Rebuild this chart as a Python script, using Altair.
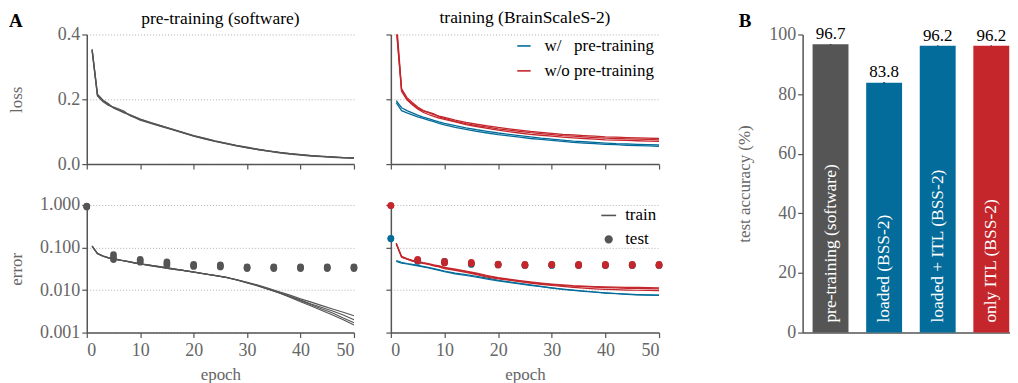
import altair as alt
import pandas as pd

FONT = "Liberation Serif"
GRAY = "#555555"
LABEL_GRAY = "#666666"
BLUE = "#046c9a"
RED = "#c4262b"
GRID = "#b0b0b0"

W_PRE = "w/\u00a0\u00a0\u00a0pre-training"
WO_PRE = "w/o pre-training"

# ---------------- data ----------------
EPOCHS = [1, 2, 3, 4, 5, 6, 7, 8, 9, 10, 12, 14, 16, 18, 20, 22, 24, 26, 28, 30,
          32, 34, 36, 38, 40, 42, 44, 46, 48, 50]
TEST_EPOCHS = [0, 5, 10, 15, 20, 25, 30, 35, 40, 45, 50]

# pre-training (software) loss, several runs
sw_loss_runs = [
    [0.355, 0.213, 0.196, 0.184, 0.174, 0.167, 0.160, 0.152, 0.145, 0.138, 0.127, 0.117, 0.107, 0.097, 0.087,
     0.079, 0.071, 0.064, 0.057, 0.051, 0.045, 0.040, 0.036, 0.032, 0.029, 0.026, 0.024, 0.022, 0.020, 0.019],
    [0.350, 0.210, 0.193, 0.182, 0.176, 0.170, 0.163, 0.150, 0.143, 0.136, 0.126, 0.116, 0.106, 0.096, 0.086,
     0.078, 0.070, 0.063, 0.056, 0.050, 0.045, 0.040, 0.035, 0.031, 0.028, 0.025, 0.023, 0.021, 0.019, 0.018],
    [0.352, 0.216, 0.198, 0.187, 0.173, 0.166, 0.158, 0.153, 0.146, 0.139, 0.128, 0.118, 0.108, 0.098, 0.088,
     0.080, 0.072, 0.065, 0.058, 0.052, 0.046, 0.041, 0.036, 0.032, 0.029, 0.026, 0.024, 0.022, 0.020, 0.019],
]

# pre-training (software) train error, several runs
sw_err_runs = [
    [0.108, 0.072, 0.063, 0.058, 0.054, 0.051, 0.049, 0.046, 0.043, 0.041, 0.038, 0.035, 0.032, 0.029, 0.0265,
     0.024, 0.022, 0.020, 0.0175, 0.0150, 0.0128, 0.0106, 0.0087, 0.0071, 0.0058, 0.0047, 0.0039, 0.0032, 0.0026, 0.0020],
    [0.106, 0.071, 0.062, 0.057, 0.053, 0.051, 0.048, 0.046, 0.043, 0.041, 0.038, 0.034, 0.031, 0.029, 0.0262,
     0.0238, 0.0218, 0.0198, 0.0176, 0.0152, 0.0131, 0.0110, 0.0091, 0.0076, 0.0062, 0.0052, 0.0043, 0.0036, 0.0030, 0.0025],
    [0.109, 0.073, 0.064, 0.058, 0.055, 0.052, 0.049, 0.047, 0.044, 0.042, 0.038, 0.035, 0.032, 0.029, 0.0268,
     0.0242, 0.0220, 0.0199, 0.0172, 0.0147, 0.0125, 0.0103, 0.0085, 0.0068, 0.0053, 0.0042, 0.0033, 0.0026, 0.0020, 0.0015],
    [0.107, 0.072, 0.063, 0.057, 0.054, 0.051, 0.048, 0.046, 0.044, 0.041, 0.037, 0.034, 0.031, 0.029, 0.0264,
     0.0241, 0.0221, 0.0201, 0.0174, 0.0149, 0.0127, 0.0105, 0.0088, 0.0070, 0.0056, 0.0045, 0.0036, 0.0029, 0.0022, 0.0017],
]

# pre-training (software) test error (3 runs per test epoch)
sw_test_runs = [
    [0.92, 0.052, 0.045, 0.039, 0.036, 0.035, 0.032, 0.032, 0.032, 0.032, 0.032],
    [0.94, 0.060, 0.049, 0.042, 0.038, 0.037, 0.034, 0.034, 0.034, 0.034, 0.034],
    [0.90, 0.068, 0.053, 0.046, 0.040, 0.039, 0.035, 0.035, 0.035, 0.035, 0.035],
]

# BrainScaleS-2 loss
hw_loss_wo = [
    [0.45, 0.232, 0.205, 0.190, 0.176, 0.166, 0.159, 0.153, 0.148, 0.144, 0.136, 0.129, 0.123, 0.118, 0.113,
     0.109, 0.105, 0.101, 0.098, 0.095, 0.092, 0.090, 0.088, 0.086, 0.084, 0.083, 0.082, 0.081, 0.080, 0.079],
    [0.43, 0.228, 0.200, 0.186, 0.172, 0.164, 0.160, 0.155, 0.146, 0.141, 0.132, 0.125, 0.119, 0.114, 0.109,
     0.105, 0.101, 0.097, 0.094, 0.091, 0.088, 0.086, 0.084, 0.082, 0.080, 0.079, 0.078, 0.077, 0.076, 0.075],
    [0.42, 0.225, 0.198, 0.183, 0.170, 0.160, 0.153, 0.147, 0.142, 0.138, 0.130, 0.122, 0.116, 0.110, 0.105,
     0.100, 0.096, 0.092, 0.089, 0.086, 0.083, 0.081, 0.079, 0.077, 0.075, 0.074, 0.073, 0.072, 0.071, 0.070],
]
hw_loss_w = [
    [0.196, 0.174, 0.165, 0.158, 0.151, 0.145, 0.140, 0.135, 0.130, 0.126, 0.119, 0.112, 0.106, 0.101, 0.096,
     0.092, 0.088, 0.084, 0.080, 0.077, 0.074, 0.071, 0.069, 0.067, 0.065, 0.063, 0.062, 0.061, 0.060, 0.059],
    [0.190, 0.165, 0.158, 0.152, 0.146, 0.141, 0.136, 0.131, 0.126, 0.121, 0.113, 0.107, 0.101, 0.096, 0.091,
     0.087, 0.083, 0.079, 0.076, 0.073, 0.070, 0.067, 0.065, 0.063, 0.061, 0.060, 0.058, 0.057, 0.056, 0.055],
]

# BrainScaleS-2 train error
hw_err_wo = [
    [0.124, 0.060, 0.054, 0.049, 0.046, 0.043, 0.041, 0.038, 0.036, 0.033, 0.030, 0.027, 0.024, 0.021, 0.0190,
     0.0176, 0.0162, 0.0150, 0.0141, 0.0134, 0.0128, 0.0123, 0.0120, 0.0117, 0.0114, 0.0112, 0.0110, 0.0109, 0.0108, 0.0107],
    [0.128, 0.062, 0.055, 0.050, 0.047, 0.044, 0.042, 0.039, 0.037, 0.034, 0.031, 0.028, 0.025, 0.022, 0.0196,
     0.0180, 0.0166, 0.0155, 0.0146, 0.0138, 0.0132, 0.0127, 0.0124, 0.0121, 0.0119, 0.0117, 0.0116, 0.0115, 0.0114, 0.0113],
    [0.120, 0.059, 0.053, 0.048, 0.045, 0.042, 0.040, 0.037, 0.035, 0.032, 0.029, 0.026, 0.023, 0.020, 0.0184,
     0.0170, 0.0157, 0.0146, 0.0136, 0.0128, 0.0122, 0.0116, 0.0111, 0.0107, 0.0104, 0.0102, 0.0100, 0.0099, 0.0098, 0.0097],
]
hw_err_w = [
    [0.049, 0.045, 0.042, 0.040, 0.038, 0.036, 0.034, 0.032, 0.030, 0.028, 0.025, 0.023, 0.021, 0.019, 0.0170,
     0.0155, 0.0143, 0.0132, 0.0122, 0.0113, 0.0106, 0.0100, 0.0095, 0.0090, 0.0086, 0.0083, 0.0080, 0.0078, 0.0077, 0.0076],
    [0.047, 0.043, 0.041, 0.039, 0.037, 0.035, 0.033, 0.031, 0.029, 0.027, 0.024, 0.022, 0.020, 0.018, 0.0165,
     0.0151, 0.0139, 0.0129, 0.0120, 0.0111, 0.0104, 0.0098, 0.0093, 0.0089, 0.0085, 0.0082, 0.0079, 0.0077, 0.0076, 0.0075],
]

# BrainScaleS-2 test error
hw_test_wo = [
    [0.97, 0.049, 0.043, 0.042, 0.039, 0.038, 0.039, 0.038, 0.038, 0.038, 0.038],
    [0.97, 0.053, 0.047, 0.045, 0.041, 0.040, 0.040, 0.040, 0.040, 0.040, 0.040],
]
hw_test_w = [
    [0.165, 0.047, 0.044, 0.040, 0.039, 0.038, 0.038, 0.038, 0.038, 0.038, 0.038],
    [0.160, 0.050, 0.047, 0.042, 0.040, 0.039, 0.039, 0.039, 0.039, 0.039, 0.039],
]

# Panel B
bar_labels = ["pre-training (software)", "loaded (BSS-2)", "loaded + ITL (BSS-2)", "only ITL (BSS-2)"]
bar_values = [96.7, 83.8, 96.2, 96.2]
bar_errors = [0.1, 0.2, 0.1, 0.1]
bar_colors = [GRAY, BLUE, BLUE, RED]


def long_df(runs, epochs, cond=None, kind=None):
    rows = []
    for r, vals in enumerate(runs):
        for e, v in zip(epochs, vals):
            rows.append({"epoch": e, "value": v, "run": r, "cond": cond, "kind": kind})
    return pd.DataFrame(rows)


# ---------------- common pieces ----------------
XVALS = [0, 10, 20, 30, 40, 50]
xscale = alt.Scale(domain=[0, 50], nice=False, zero=False)
loss_scale = alt.Scale(domain=[0, 0.4], nice=False)
err_scale = alt.Scale(type="log", domain=[0.001, 1], nice=False)

axis_common = dict(domainColor=GRAY, tickColor=GRAY, domainWidth=1.5, tickWidth=1.2, tickSize=5,
                   labelFont=FONT, labelFontSize=18, labelColor=LABEL_GRAY,
                   titleFont=FONT, titleFontSize=17, titleColor=LABEL_GRAY, titleFontWeight="normal")

x_top_axis = alt.Axis(values=XVALS, labels=False, title=None, grid=False, **axis_common)
x_bot_axis = alt.Axis(values=XVALS, title="epoch", grid=False, labelPadding=4, titlePadding=7, **axis_common)

grid_kw = dict(grid=True, gridColor=GRID, gridDash=[1, 2], gridWidth=1)

TW, TH, BH = 268, 130, 128
MW = 269

cmap = alt.Scale(domain=[W_PRE, WO_PRE], range=[BLUE, RED])

OFF = -16
title_kw = dict(font=FONT, fontSize=17.5, fontWeight="normal", color="black",
                anchor="middle", frame="group")

# --- top-left: pre-training loss
tl_lines = alt.Chart(long_df(sw_loss_runs, EPOCHS)).mark_line(strokeWidth=1.3, color=GRAY).encode(
    x=alt.X("epoch:Q", scale=xscale, axis=x_top_axis),
    y=alt.Y("value:Q", scale=loss_scale,
            axis=alt.Axis(values=[0, 0.2, 0.4], format=".1f", title="loss", labelPadding=2,
                          titleX=-70, titleY=TH / 2, titleBaseline="middle", **grid_kw, **axis_common)),
    detail="run:N",
)
letter_a = alt.Chart(pd.DataFrame({"t": ["A"]})).mark_text(
    font=FONT, fontSize=19, fontWeight="bold", color="black", align="left", baseline="bottom"
).encode(text="t:N", x=alt.value(-78), y=alt.value(-4))

top_left = alt.layer(tl_lines, letter_a).properties(
    width=TW, height=TH, title=alt.TitleParams("pre-training (software)", offset=OFF, **title_kw))

# --- bottom-left: pre-training error
bl_lines = alt.Chart(long_df(sw_err_runs, EPOCHS)).mark_line(strokeWidth=1.1, color=GRAY).encode(
    x=alt.X("epoch:Q", scale=xscale, axis=x_bot_axis),
    y=alt.Y("value:Q", scale=err_scale,
            axis=alt.Axis(values=[0.001, 0.01, 0.1, 1], format=".3f", title="error", labelPadding=2,
                          titleX=-70, titleY=BH / 2, titleBaseline="middle", **grid_kw, **axis_common)),
    detail="run:N",
)
bl_pts = alt.Chart(long_df(sw_test_runs, TEST_EPOCHS)).mark_point(
    filled=True, size=45, color=GRAY, opacity=1).encode(
    x=alt.X("epoch:Q", scale=xscale),
    y=alt.Y("value:Q", scale=err_scale),
)
bottom_left = alt.layer(bl_lines, bl_pts).properties(width=TW, height=BH)

# --- top-right: BSS-2 loss
y_mid_loss_axis = alt.Axis(values=[0, 0.2, 0.4], labels=False, title=None, **grid_kw, **axis_common)
tr_blue = alt.Chart(long_df(hw_loss_w, EPOCHS, cond=W_PRE)).mark_line(strokeWidth=1.3, clip=True).encode(
    x=alt.X("epoch:Q", scale=xscale, axis=x_top_axis),
    y=alt.Y("value:Q", scale=loss_scale, axis=y_mid_loss_axis),
    color=alt.Color("cond:N", scale=cmap, legend=alt.Legend(
        title=None, orient="none", legendX=125, legendY=3, symbolType="stroke", symbolSize=180,
        symbolStrokeWidth=1.6, labelFont=FONT, labelFontSize=17, labelColor="black", labelOffset=12,
        rowPadding=7, padding=0)),
    detail="run:N",
)
tr_red = alt.Chart(long_df(hw_loss_wo, EPOCHS, cond=WO_PRE)).mark_line(strokeWidth=1.3, clip=True).encode(
    x=alt.X("epoch:Q", scale=xscale),
    y=alt.Y("value:Q", scale=loss_scale),
    color=alt.Color("cond:N", scale=cmap),
    detail="run:N",
)
top_right = alt.layer(tr_blue, tr_red).properties(
    width=MW, height=TH, title=alt.TitleParams("training (BrainScaleS-2)", offset=OFF + 23, **title_kw))

# --- bottom-right: BSS-2 error
y_mid_err_axis = alt.Axis(values=[0.001, 0.01, 0.1, 1], labels=False, title=None, **grid_kw, **axis_common)
kind_shape = alt.Scale(domain=["train", "test"], range=["stroke", "circle"])
kind_size = alt.Scale(domain=["train", "test"], range=[220, 45])
kind_legend = alt.Legend(title=None, orient="none", legendX=210, legendY=2,
                         labelFont=FONT, labelFontSize=17, labelColor="black", labelOffset=8,
                         symbolFillColor=GRAY, symbolStrokeColor=GRAY, symbolStrokeWidth=1.6,
                         rowPadding=6, padding=0)

br_blue = alt.Chart(long_df(hw_err_w, EPOCHS, cond=W_PRE)).mark_line(strokeWidth=1.2).encode(
    x=alt.X("epoch:Q", scale=xscale, axis=x_bot_axis),
    y=alt.Y("value:Q", scale=err_scale, axis=y_mid_err_axis),
    color=alt.Color("cond:N", scale=cmap, legend=None),
    detail="run:N",
)
br_red = alt.Chart(long_df(hw_err_wo, EPOCHS, cond=WO_PRE)).mark_line(strokeWidth=1.2).encode(
    x=alt.X("epoch:Q", scale=xscale),
    y=alt.Y("value:Q", scale=err_scale),
    color=alt.Color("cond:N", scale=cmap, legend=None),
    detail="run:N",
)
br_pts_blue = alt.Chart(long_df(hw_test_w, TEST_EPOCHS, cond=W_PRE, kind="test")).mark_point(
    filled=True, opacity=1).encode(
    x=alt.X("epoch:Q", scale=xscale),
    y=alt.Y("value:Q", scale=err_scale),
    color=alt.Color("cond:N", scale=cmap, legend=None),
    shape=alt.Shape("kind:N", scale=kind_shape, legend=kind_legend),
    size=alt.Size("kind:N", scale=kind_size, legend=kind_legend),
)
br_pts_red = alt.Chart(long_df(hw_test_wo, TEST_EPOCHS, cond=WO_PRE, kind="test")).mark_point(
    filled=True, opacity=1).encode(
    x=alt.X("epoch:Q", scale=xscale),
    y=alt.Y("value:Q", scale=err_scale),
    color=alt.Color("cond:N", scale=cmap, legend=None),
    shape=alt.Shape("kind:N", scale=kind_shape, legend=kind_legend),
    size=alt.Size("kind:N", scale=kind_size, legend=kind_legend),
)
bottom_right = alt.layer(br_blue, br_red, br_pts_blue, br_pts_red).properties(width=MW, height=BH)

# --- panel B
dfB = pd.DataFrame({
    "cat": bar_labels, "acc": bar_values,
    "lo": [v - e for v, e in zip(bar_values, bar_errors)],
    "hi": [v + e for v, e in zip(bar_values, bar_errors)],
    "lab": [f"{v:.1f}" for v in bar_values],
})
BW, BHH = 208, 299
xB = alt.X("cat:N", sort=bar_labels,
           scale=alt.Scale(paddingInner=0.33, paddingOuter=0.1, align=0.93),
           axis=alt.Axis(labels=False, ticks=False, title=None, domainColor=GRAY, domainWidth=1.5))
yB_scale = alt.Scale(domain=[0, 100], nice=False)
bars = alt.Chart(dfB).mark_bar().encode(
    x=xB,
    y=alt.Y("acc:Q", scale=yB_scale,
            axis=alt.Axis(values=[0, 20, 40, 60, 80, 100], title="test accuracy (%)", grid=False,
                          labelPadding=2, titleX=-58, titleY=BHH / 2, titleBaseline="middle", **axis_common)),
    color=alt.Color("cat:N", scale=alt.Scale(domain=bar_labels, range=bar_colors), legend=None),
)
errs = alt.Chart(dfB).mark_rule(color="black", strokeWidth=1.5).encode(
    x=alt.X("cat:N", sort=bar_labels), y=alt.Y("lo:Q", scale=yB_scale), y2="hi:Q")
vals = alt.Chart(dfB).mark_text(font=FONT, fontSize=17, color="black", baseline="alphabetic", dy=-5).encode(
    x=alt.X("cat:N", sort=bar_labels), y=alt.Y("hi:Q", scale=yB_scale), text="lab:N")
inner = alt.Chart(dfB).mark_text(font=FONT, fontSize=17.5, color="white", angle=270, align="left",
                                 baseline="middle", dx=10).encode(
    x=alt.X("cat:N", sort=bar_labels), y=alt.value(BHH), text="cat:N")
letter_b = alt.Chart(pd.DataFrame({"t": ["B"]})).mark_text(
    font=FONT, fontSize=19, fontWeight="bold", color="black", align="left", baseline="bottom"
).encode(text="t:N", x=alt.value(-64), y=alt.value(-4))

panel_b = alt.layer(bars, errs, vals, inner, letter_b).properties(
    width=BW, height=BHH, title=alt.TitleParams(" ", offset=OFF, **title_kw))

left_col = alt.vconcat(top_left, bottom_left, spacing=41, bounds="flush").resolve_scale(
    color="independent", shape="independent", size="independent")
mid_col = alt.vconcat(top_right, bottom_right, spacing=41, bounds="flush").resolve_scale(
    color="independent", shape="independent", size="independent")
panel_a = alt.hconcat(left_col, mid_col, spacing=27).resolve_scale(
    color="independent", shape="independent", size="independent")

chart = alt.hconcat(panel_a, panel_b, spacing=73).resolve_scale(
    color="independent", shape="independent", size="independent"
).properties(
    padding=0
).configure(font=FONT).configure_view(stroke=None).configure_axis(
    labelFont=FONT, titleFont=FONT).configure_legend(labelFont=FONT).configure_text(font=FONT)

chart.save("out.html", embed_options={"renderer": "svg", "actions": False})
